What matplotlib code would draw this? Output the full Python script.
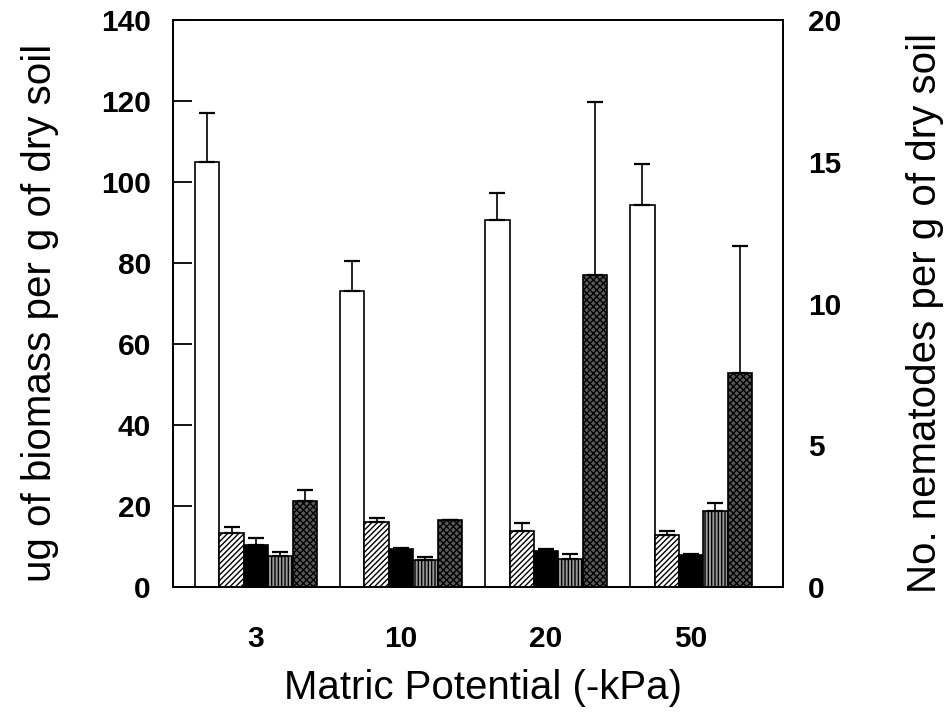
import matplotlib
matplotlib.use("Agg")
import matplotlib.pyplot as plt
import numpy as np

plt.rcParams['font.family'] = ['Liberation Sans', 'DejaVu Sans']
plt.rcParams['hatch.linewidth'] = 1.0

categories = ["3", "10", "20", "50"]

# biomass series (left axis, ug per g dry soil)
white_vals = [105.0, 73.2, 90.5, 94.2]
white_err = [12.0, 7.2, 6.7, 10.2]
hatched_vals = [13.4, 16.1, 13.9, 12.9]
hatched_err = [1.4, 1.0, 1.9, 1.0]
black_vals = [10.4, 9.5, 8.9, 7.9]
black_err = [1.7, 0.2, 0.5, 0.2]
vline_vals = [7.7, 6.7, 6.9, 18.8]
vline_err = [1.0, 0.8, 1.3, 2.0]

# nematodes (right axis, No. per g dry soil)
nema_vals = [3.04, 2.37, 11.0, 7.56]
nema_err = [0.39, 0.0, 6.1, 4.48]

left_ticks = [0, 20, 40, 60, 80, 100, 120, 140]
right_ticks = [0, 5, 10, 15, 20]

fig = plt.figure(figsize=(9.44, 7.17), dpi=100)
ax = fig.add_axes([0.1833, 0.1813, 0.6462, 0.7908])
ax2 = ax.twinx()

x = np.arange(len(categories))
w = 0.168

def draw(axis, offset, vals, errs, color, hatch):
    axis.bar(x + offset * w, vals, width=w, color=color, edgecolor='black',
             linewidth=1.2, hatch=hatch, zorder=2)
    axis.errorbar(x + offset * w, vals, yerr=[np.zeros(len(vals)), errs],
                  fmt='none', ecolor='black', elinewidth=1.2, capsize=5.5,
                  capthick=1.6, zorder=3)

draw(ax, -2, white_vals, white_err, 'white', None)
draw(ax, -1, hatched_vals, hatched_err, 'white', '//////')
draw(ax, 0, black_vals, black_err, 'black', None)
draw(ax, 1, vline_vals, vline_err, '#9a9a9a', '|||||')
draw(ax2, 2, nema_vals, nema_err, '#5a5a5a', 'xxxxx')

ax.set_xlim(-0.572, 3.634)
ax.set_ylim(0, 140)
ax2.set_ylim(0, 20)

ax.set_yticks(left_ticks)
ax.set_yticklabels([str(t) for t in left_ticks], fontsize=21.5, fontweight='bold')
ax.tick_params(axis='y', direction='in', length=14, width=1.3, pad=16)
ax.set_xticks(x)
ax.set_xticklabels(categories, fontsize=21.5, fontweight='bold')
ax.tick_params(axis='x', length=0, pad=27)

ax2.set_yticks(right_ticks)
ax2.set_yticklabels([str(t) for t in right_ticks], fontsize=21.5, fontweight='bold')
ax2.tick_params(axis='y', length=0, pad=18)

for a in (ax, ax2):
    for s in a.spines.values():
        s.set_linewidth(1.3)

fig.text(0.042, 0.563, "ug of biomass per g of dry soil", rotation=90,
         ha='center', va='center', fontsize=29)
fig.text(0.98, 0.563, "No. nematodes per g of dry soil", rotation=90,
         ha='center', va='center', fontsize=29)
fig.text(0.512, 0.04, "Matric Potential (-kPa)", ha='center', va='center',
         fontsize=29)

fig.savefig("out.png", dpi=100)
